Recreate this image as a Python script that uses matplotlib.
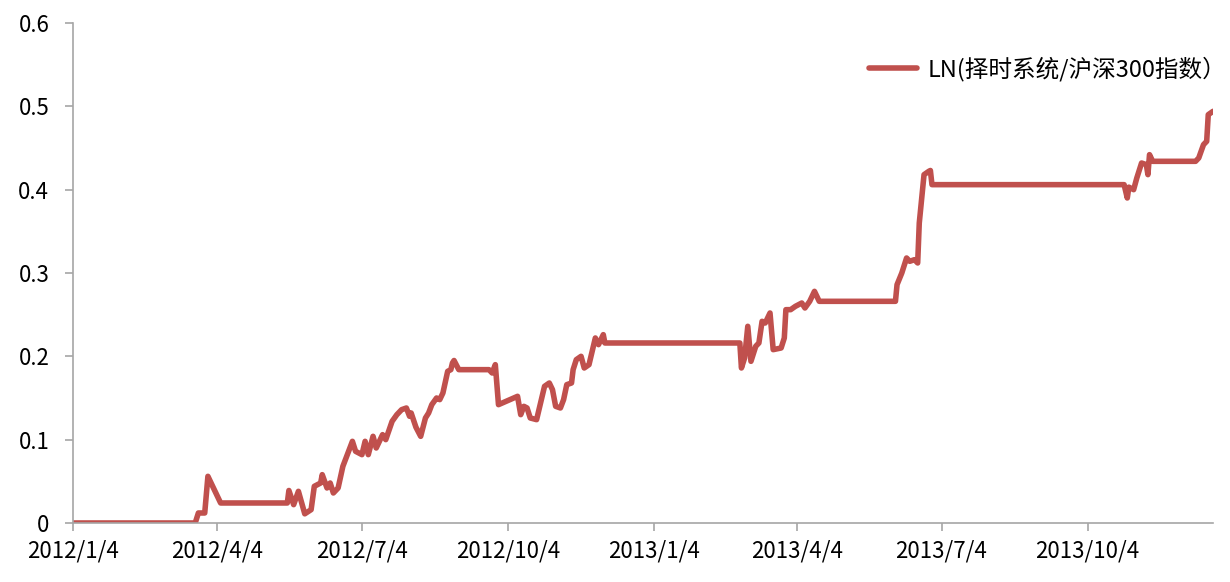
import matplotlib
matplotlib.use("Agg")
import matplotlib.pyplot as plt
import pandas as pd

plt.rcParams['font.family'] = ['Noto Sans CJK SC', 'DejaVu Sans']

# values
dates = [
    "2012-01-04", "2012-03-21", "2012-03-23", "2012-03-27", "2012-03-29", "2012-04-06",
    "2012-05-18", "2012-05-19", "2012-05-22", "2012-05-25", "2012-05-29", "2012-06-02",
    "2012-06-04", "2012-06-08", "2012-06-09", "2012-06-12", "2012-06-14", "2012-06-16",
    "2012-06-19", "2012-06-22", "2012-06-28", "2012-06-30", "2012-07-04", "2012-07-06",
    "2012-07-08", "2012-07-11", "2012-07-13", "2012-07-17", "2012-07-19", "2012-07-23",
    "2012-07-26", "2012-07-29", "2012-08-01", "2012-08-03", "2012-08-04", "2012-08-07",
    "2012-08-10", "2012-08-13", "2012-08-15", "2012-08-17", "2012-08-20", "2012-08-22",
    "2012-08-24", "2012-08-27", "2012-08-29", "2012-08-30", "2012-08-31", "2012-09-03",
    "2012-09-22", "2012-09-24", "2012-09-26", "2012-09-28", "2012-10-10", "2012-10-12",
    "2012-10-14", "2012-10-16", "2012-10-18", "2012-10-22", "2012-10-24", "2012-10-27",
    "2012-10-30", "2012-11-01", "2012-11-03", "2012-11-06", "2012-11-08", "2012-11-10",
    "2012-11-13", "2012-11-14", "2012-11-16", "2012-11-19", "2012-11-21", "2012-11-24",
    "2012-11-26", "2012-11-28", "2012-11-30", "2012-12-03", "2012-12-04",
    "2013-02-27", "2013-02-28", "2013-03-02", "2013-03-04", "2013-03-06", "2013-03-09",
    "2013-03-11", "2013-03-13", "2013-03-15", "2013-03-18", "2013-03-20", "2013-03-25",
    "2013-03-27", "2013-03-28", "2013-03-31", "2013-04-03", "2013-04-07", "2013-04-09",
    "2013-04-12", "2013-04-15", "2013-04-18", "2013-06-05", "2013-06-06", "2013-06-09",
    "2013-06-12", "2013-06-14", "2013-06-17", "2013-06-19", "2013-06-20", "2013-06-23",
    "2013-06-26", "2013-06-27", "2013-06-28", "2013-10-27", "2013-10-29", "2013-10-30",
    "2013-11-02", "2013-11-04", "2013-11-07", "2013-11-10", "2013-11-11", "2013-11-12",
    "2013-11-14", "2013-12-11", "2013-12-13", "2013-12-16", "2013-12-18", "2013-12-19",
    "2013-12-22",
]
ln_ratio = [
    0.0, 0.0, 0.012, 0.012, 0.056, 0.024,
    0.024, 0.039, 0.022, 0.038, 0.011, 0.016,
    0.044, 0.048, 0.058, 0.042, 0.048, 0.036,
    0.042, 0.068, 0.098, 0.086, 0.082, 0.098,
    0.082, 0.104, 0.090, 0.106, 0.100, 0.122,
    0.130, 0.136, 0.138, 0.128, 0.132, 0.115,
    0.104, 0.126, 0.132, 0.142, 0.150, 0.148,
    0.156, 0.182, 0.184, 0.192, 0.195, 0.184,
    0.184, 0.180, 0.190, 0.142, 0.152, 0.130,
    0.140, 0.138, 0.126, 0.124, 0.140, 0.164,
    0.168, 0.160, 0.140, 0.138, 0.148, 0.166,
    0.168, 0.184, 0.196, 0.200, 0.186, 0.190,
    0.206, 0.222, 0.214, 0.226, 0.216,
    0.216, 0.186, 0.198, 0.236, 0.194, 0.212,
    0.216, 0.242, 0.240, 0.252, 0.208, 0.210,
    0.222, 0.256, 0.256, 0.260, 0.264, 0.258,
    0.266, 0.278, 0.266, 0.266, 0.286, 0.300,
    0.318, 0.314, 0.316, 0.312, 0.360, 0.418,
    0.422, 0.423, 0.406, 0.406, 0.390, 0.403,
    0.400, 0.414, 0.432, 0.430, 0.418, 0.442,
    0.434, 0.434, 0.438, 0.454, 0.458, 0.490,
    0.494,
]
tick_dates = ["2012-01-04", "2012-04-04", "2012-07-04", "2012-10-04",
              "2013-01-04", "2013-04-04", "2013-07-04", "2013-10-04"]
tick_labels = ["2012/1/4", "2012/4/4", "2012/7/4", "2012/10/4",
               "2013/1/4", "2013/4/4", "2013/7/4", "2013/10/4"]
y_ticks = [0, 0.1, 0.2, 0.3, 0.4, 0.5, 0.6]
y_labels = ["0", "0.1", "0.2", "0.3", "0.4", "0.5", "0.6"]
series_name = "LN(择时系统/沪深300指数）"

df = pd.DataFrame({"date": pd.to_datetime(dates), "value": ln_ratio})

fig = plt.figure(figsize=(12.3, 5.82), dpi=100)
ax = fig.add_axes([0.0593, 0.1014, 0.9269, 0.8591])

ax.plot(df["date"], df["value"], color="#C0504D", linewidth=4.0,
        solid_joinstyle="round", solid_capstyle="round", label=series_name)

ax.set_xlim(df["date"].iloc[0], df["date"].iloc[-1])
ax.set_ylim(0, 0.6)
ax.set_xticks(pd.to_datetime(tick_dates))
ax.set_xticklabels(tick_labels)
ax.set_yticks(y_ticks)
ax.set_yticklabels(y_labels)

for side in ["top", "right"]:
    ax.spines[side].set_visible(False)
for side in ["left", "bottom"]:
    ax.spines[side].set_color("#A6A6A6")
    ax.spines[side].set_linewidth(1.2)

ax.tick_params(axis="x", direction="out", length=6, width=1.2, color="#A6A6A6",
               labelsize=16, pad=6)
ax.tick_params(axis="y", direction="out", length=6, width=1.2, color="#A6A6A6",
               labelsize=16, pad=11)

ax.legend(loc="upper right", bbox_to_anchor=(1.03, 0.975), frameon=False,
          fontsize=17, handlelength=2.0, handletextpad=0.45)

fig.savefig("out.png", dpi=100)
